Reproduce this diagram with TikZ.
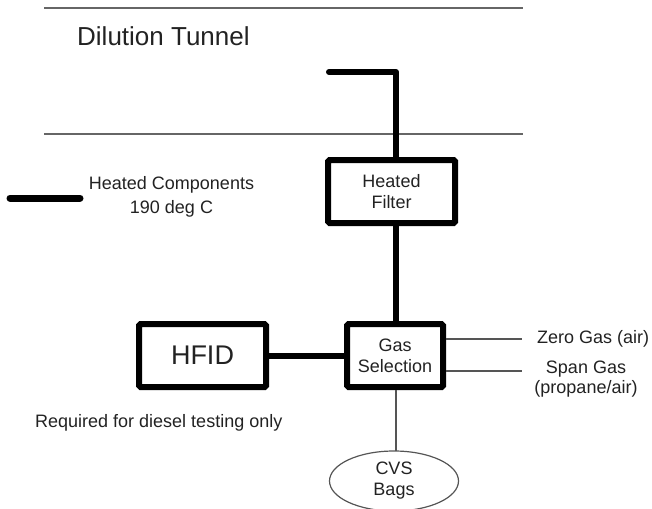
\documentclass[tikz,border=0pt]{standalone}
\usepackage{fontspec}
\setmainfont{Liberation Sans}
\usetikzlibrary{shapes.geometric}
\definecolor{txt}{HTML}{222222}
\definecolor{thin}{HTML}{555555}
\tikzset{
  heated/.style={line width=6pt, line cap=round, line join=round, black},
  hbox/.style={draw=black, line width=6pt, rounded corners=1.5pt, inner sep=0pt,
    align=center, text=txt, font=\fontsize{18}{21}\selectfont},
  thinline/.style={draw=thin, line width=1.3pt},
  tunnel/.style={draw=gray!80!black, line width=1.6pt},
  lbl/.style={text=txt, font=\fontsize{18}{20}\selectfont, inner sep=0pt, align=center},
}
\begin{document}
\begin{tikzpicture}[x=1pt,y=-1pt]
\useasboundingbox (0,0) rectangle (652,508);
% tunnel walls
\coordinate (t1a) at (44,8);  \coordinate (t1b) at (523,8);
\coordinate (t2a) at (44,134); \coordinate (t2b) at (523,134);
\draw[tunnel] (t1a) -- (t1b);
\draw[tunnel] (t2a) -- (t2b);
\node[lbl, anchor=west, font=\fontsize{26}{28}\selectfont] (dt) at (77,36) {Dilution Tunnel};
% boxes
\node[hbox, minimum width=127pt, minimum height=63pt] (filter) at (391.5,191.5) {Heated\\Filter};
\node[hbox, minimum width=96pt, minimum height=63pt] (gas) at (395,355.5) {Gas\\Selection};
\node[hbox, minimum width=127pt, minimum height=63pt, font=\fontsize{27}{30}\selectfont] (hfid) at (202.5,355.5) {HFID};
\node[draw=thin, line width=1.2pt, ellipse, minimum width=129pt, minimum height=60pt, inner sep=0pt,
  align=center, text=txt, font=\fontsize{18}{21}\selectfont] (bags) at (394,481) {CVS\\Bags};
% probe pipe
\coordinate (probe) at (329,72);
\coordinate (bend) at (396,72);
\draw[heated] (probe) -- (bend) -- (bend |- filter.north);
\draw[heated, line cap=butt] (gas.north -| bend) -- (bend |- filter.south);
\draw[heated, line cap=butt] (hfid.east) -- (gas.west);
% legend
\coordinate (lg1) at (10,198); \coordinate (lg2) at (80,198);
\draw[heated, line width=7pt] (lg1) -- (lg2);
\node[lbl, font=\fontsize{18}{24}\selectfont] (legend) at (171.5,197) {Heated Components\\190 deg C};
% gas inputs
\coordinate (zeroend) at (522,339);
\coordinate (spanend) at (522,371);
\draw[thinline] (gas.east |- zeroend) -- (zeroend);
\draw[thinline] (gas.east |- spanend) -- (spanend);
\node[lbl, anchor=west] (zero) at (537,339) {Zero Gas (air)};
\node[lbl] (span) at (586,379) {Span Gas\\(propane/air)};
% bags line
\coordinate (bagtop) at (396,451);
\draw[thinline] (gas.south -| bagtop) -- (bagtop);
% note
\node[lbl, anchor=west] (note) at (35,423) {Required for diesel testing only};
\end{tikzpicture}
\end{document}
